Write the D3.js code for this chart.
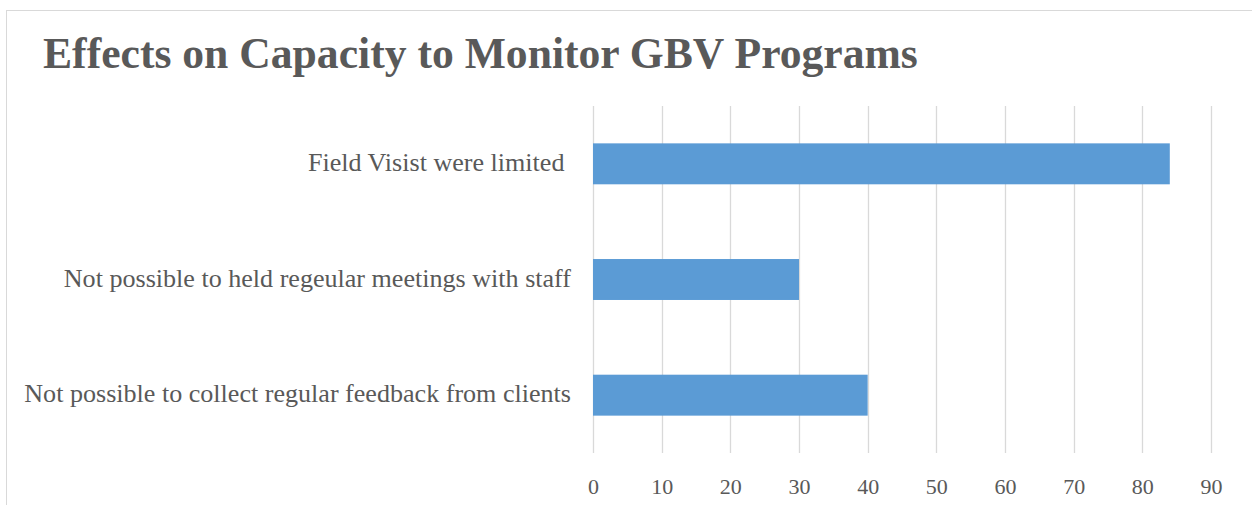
<!DOCTYPE html>
<html>
<head>
<meta charset="utf-8">
<script src="https://cdn.jsdelivr.net/npm/d3@7"></script>
<style>
  body { margin: 0; background: #fff; }
  svg { display: block; }
</style>
</head>
<body>
<div id="chart"></div>
<script>
// Data
const categories = [
    'Field Visist were limited ',
    'Not possible to held regeular meetings with staff',
    'Not possible to collect regular feedback from clients'
];
const values = [84, 30, 40];
const tickValues = [0, 10, 20, 30, 40, 50, 60, 70, 80, 90];
const title = 'Effects on Capacity to Monitor GBV Programs';

const W = 1252, H = 505;
const plot = { left: 593, right: 1211, top: 106, bottom: 453 };
const fontFamily = '"Liberation Serif", "DejaVu Serif", serif';
const textColor = '#595959';

const svg = d3.select('#chart').append('svg')
    .attr('width', W)
    .attr('height', H);

// Chart frame (only top and left edges are visible in the crop)
svg.append('rect')
    .attr('x', 6.5)
    .attr('y', 10.5)
    .attr('width', W + 20)
    .attr('height', H + 20)
    .attr('fill', '#fff')
    .attr('stroke', '#D9D9D9')
    .attr('stroke-width', 1);

const x = d3.scaleLinear()
    .domain([0, 90])
    .range([plot.left, plot.right]);

const y = d3.scaleBand()
    .domain(categories)
    .range([plot.top, plot.bottom])
    .paddingInner(0.646)
    .paddingOuter(0.323);

// Vertical gridlines
svg.append('g')
    .selectAll('line')
    .data(tickValues)
    .join('line')
    .attr('x1', d => Math.round(x(d)) + 0.5)
    .attr('x2', d => Math.round(x(d)) + 0.5)
    .attr('y1', plot.top)
    .attr('y2', plot.bottom)
    .attr('stroke', '#D9D9D9')
    .attr('stroke-width', 1.3);

// Bars
svg.append('g')
    .selectAll('rect')
    .data(categories)
    .join('rect')
    .attr('x', x(0))
    .attr('y', d => y(d))
    .attr('width', (d, i) => x(values[i]) - x(0))
    .attr('height', y.bandwidth())
    .attr('fill', '#5B9BD5');

// X axis (tick labels only)
const xAxis = d3.axisBottom(x)
    .tickValues(tickValues)
    .tickSize(0)
    .tickPadding(0);

const xg = svg.append('g')
    .attr('transform', `translate(0,${plot.bottom + 41})`)
    .call(xAxis);
xg.select('.domain').remove();
xg.attr('font-size', null).attr('font-family', null);
xg.selectAll('text')
    .attr('dy', 0)
    .style('font-family', fontFamily)
    .style('font-size', '22px')
    .attr('fill', textColor);

// Category labels
svg.append('g')
    .selectAll('text')
    .data(categories)
    .join('text')
    .attr('x', 571)
    .attr('y', d => y(d) + y.bandwidth() / 2 + 7)
    .attr('text-anchor', 'end')
    .attr('xml:space', 'preserve')
    .attr('font-family', fontFamily)
    .attr('font-size', '21px')
    .attr('fill', textColor)
    .text(d => d);

// Title
const titleText = svg.append('text')
    .attr('x', 43)
    .attr('y', 68)
    .attr('font-family', fontFamily)
    .attr('font-weight', 'bold')
    .attr('font-size', '34px')
    .attr('fill', textColor)
    .text(title);

// Fit title and labels to the widths seen in the reference
function fitWidth(sel, target) {
    const w = sel.node().getComputedTextLength();
    const fs = parseFloat(sel.attr('font-size'));
    sel.attr('font-size', (fs * target / w).toFixed(2) + 'px');
}
fitWidth(titleText, 875);
const longLabel = svg.selectAll('g text').filter(d => d === categories[2]);
const lw = longLabel.node().getComputedTextLength();
const labelSize = 21 * 547 / lw;
svg.selectAll('g text').filter(d => categories.includes(d))
    .attr('font-size', labelSize.toFixed(2) + 'px');
</script>
</body>
</html>
